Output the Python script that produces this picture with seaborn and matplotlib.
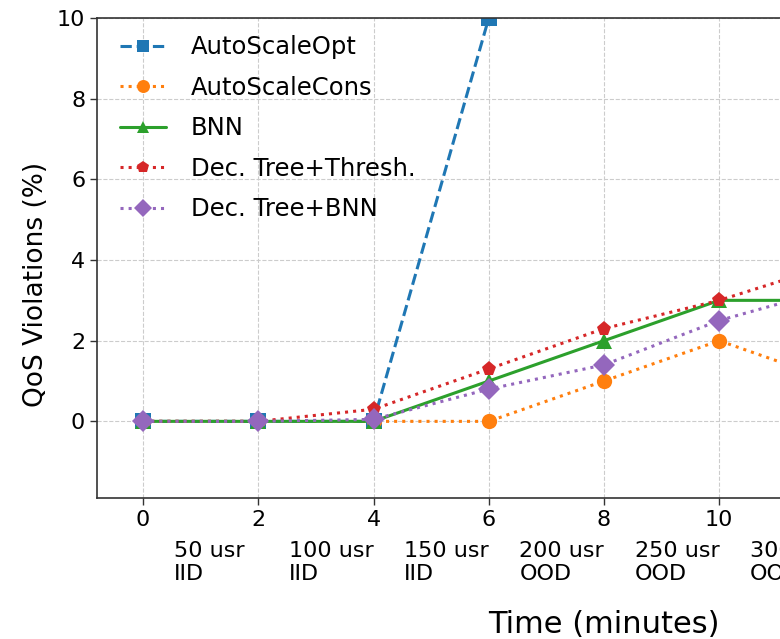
import matplotlib
matplotlib.use("Agg")
import matplotlib.pyplot as plt
import matplotlib.transforms as mtransforms
import pandas as pd
import seaborn as sns

# time axis (minutes)
time_min = [0, 2, 4, 6, 8, 10, 12, 14, 16]

# QoS violations (%) per method (points past x=11 are cut off)
autoscale_opt = [0, 0, 0, 10, 22, 30, 35, 40, 45]
autoscale_cons = [0, 0, 0, 0, 1.0, 2.0, 1.0, 1.0, 1.0]
bnn = [0, 0, 0, 1.0, 2.0, 3.0, 3.0, 3.0, 3.0]
dt_thresh = [0, 0, 0.3, 1.3, 2.3, 3.0, 3.9, 4.0, 4.0]
dt_bnn = [0, 0, 0.05, 0.8, 1.4, 2.5, 3.3, 3.5, 3.5]

# load phase labels under the axis
phase_labels = ["50 usr\nIID", "100 usr\nIID", "150 usr\nIID", "200 usr\nOOD",
                "250 usr\nOOD", "300 usr\nOOD", "350 usr\nOOD", "400 usr\nOOD"]

methods = ["AutoScaleOpt", "AutoScaleCons", "BNN", "Dec. Tree+Thresh.", "Dec. Tree+BNN"]
series = [autoscale_opt, autoscale_cons, bnn, dt_thresh, dt_bnn]

styles = {
    "AutoScaleOpt": dict(color="#1f77b4", linestyle="--", marker="s"),
    "AutoScaleCons": dict(color="#ff7f0e", linestyle=":", marker="o"),
    "BNN": dict(color="#2ca02c", linestyle="-", marker="^"),
    "Dec. Tree+Thresh.": dict(color="#d62728", linestyle=":", marker="p"),
    "Dec. Tree+BNN": dict(color="#9467bd", linestyle=":", marker="D"),
}


def main():
    sns.set_theme(style="ticks")
    plt.rcParams['font.family'] = ['DejaVu Sans']
    plt.rcParams['text.color'] = 'black'
    plt.rcParams['axes.labelcolor'] = 'black'
    plt.rcParams['xtick.color'] = 'black'
    plt.rcParams['ytick.color'] = 'black'

    df = pd.DataFrame({
        "time": time_min * len(methods),
        "qos": [v for s in series for v in s],
        "method": [m for m in methods for _ in time_min],
    })

    fig = plt.figure(figsize=(7.8, 6.39), dpi=100)
    # the axes run past the right edge of the figure (cropped original)
    ax = fig.add_axes([97 / 780, 141 / 639, 1014 / 780, 480 / 639])

    for m in methods:
        sub = df[df["method"] == m]
        st = styles[m]
        sns.lineplot(x="time", y="qos", data=sub, ax=ax, label=m,
                     color=st["color"], linestyle=st["linestyle"], marker=st["marker"],
                     markersize=11, linewidth=2.2, markeredgewidth=0)

    # clip markers at the axes box too (square at the top edge is cut in half)
    for line in ax.lines:
        line.set_clip_path(ax.patch)

    ax.set_xlim(-0.8, 16.8)
    ax.set_ylim(-1.9, 10)
    ax.set_xticks(time_min)
    ax.set_yticks([0, 2, 4, 6, 8, 10])
    ax.tick_params(labelsize=16, length=5, width=1, color="#333333")
    for sp in ax.spines.values():
        sp.set_color("#333333")
        sp.set_linewidth(1.2)

    ax.grid(True, linestyle="--", color="#cccccc", linewidth=0.8)

    ax.set_xlabel("Time (minutes)", fontsize=22, labelpad=58)
    ax.set_ylabel("QoS Violations (%)", fontsize=19)
    ax.yaxis.set_label_coords(-0.047, 0.445)

    # phase labels between the ticks
    trans = mtransforms.blended_transform_factory(ax.transData, ax.transAxes)
    for i, lab in enumerate(phase_labels):
        ax.text(2 * i + 0.53, -0.09, lab, transform=trans, ha="left", va="top",
                fontsize=16, linespacing=1.15)

    ax.legend(loc="upper left", fontsize=17.5, frameon=False, handlelength=1.9,
              handletextpad=1.0, labelspacing=0.68, markerscale=0.85,
              bbox_to_anchor=(0.006, 1.0), borderaxespad=0.3)

    fig.savefig("out.png", dpi=100)


if __name__ == "__main__":
    main()
